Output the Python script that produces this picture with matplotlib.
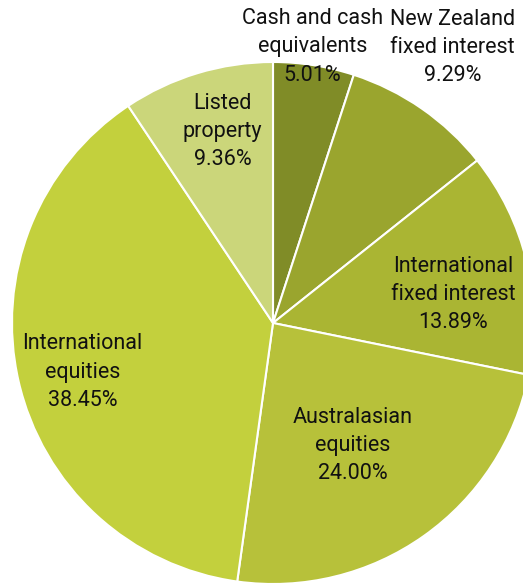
import numpy as np
import matplotlib
matplotlib.use("Agg")
import matplotlib.pyplot as plt

categories = ["Cash and cash\nequivalents", "New Zealand\nfixed interest", "International\nfixed interest",
              "Australasian\nequities", "International\nequities", "Listed\nproperty"]
values = [5.01, 9.29, 13.89, 24.00, 38.45, 9.36]
colors = ["#808c27", "#9aa52e", "#aab533", "#b7c13a", "#c3d03d", "#cbd67a"]

# label placement (radius factor, angle offset deg) - style only
label_r = [1.08, 1.27, 0.70, 0.55, 0.75, 0.77]
label_da = [1.0, 2.0, -3.5, -1.5, 0.7, -2.3]

W, H = 523, 584
fig = plt.figure(figsize=(W / 100, H / 100), dpi=100)
R = 261
cx, cy = 273, 323
ax = fig.add_axes([(cx - R) / W, (H - cy - R) / H, 2 * R / W, 2 * R / H])
wedges, _ = ax.pie(values, colors=colors, startangle=90, counterclock=False,
                   wedgeprops=dict(edgecolor="white", linewidth=1.5), radius=1.0)
for w in wedges:
    w.set_clip_on(False)
ax.set_xlim(-1, 1)
ax.set_ylim(-1, 1)
ax.set_aspect("equal")
ax.axis("off")

dy = -3.0 / R
for w, cat, v, r, da in zip(wedges, categories, values, label_r, label_da):
    ang = np.deg2rad((w.theta1 + w.theta2) / 2 + da)
    x, y = r * np.cos(ang), r * np.sin(ang) + dy
    ax.text(x, y, f"{cat}\n{v:.2f}%", ha="center", va="center", fontsize=15.5,
            family="Roboto", color="#111111", linespacing=1.45, clip_on=False)

fig.savefig("out.png", dpi=100)
